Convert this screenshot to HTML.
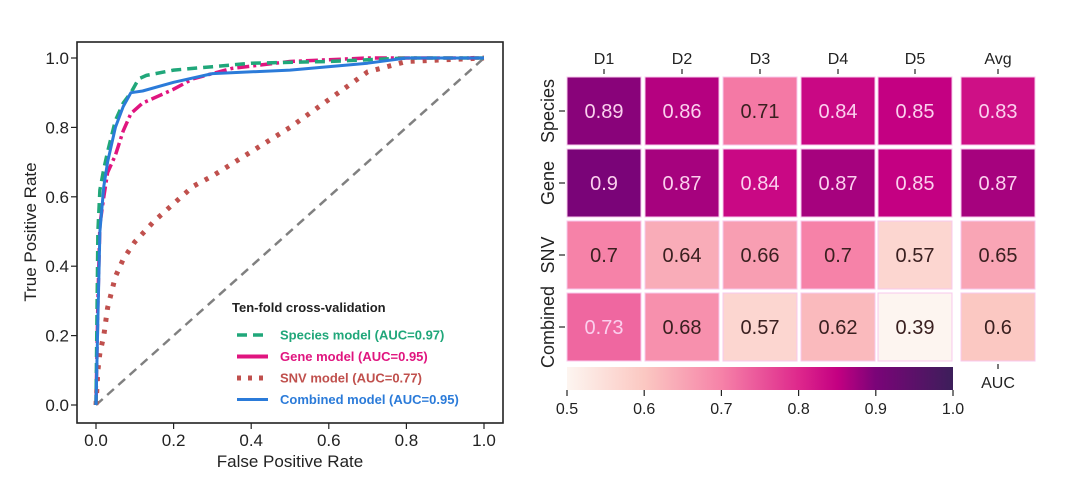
<!DOCTYPE html>
<html><head><meta charset="utf-8">
<style>
html,body{margin:0;padding:0;background:#fff;}
svg{display:block;font-family:"Liberation Sans",Arial,sans-serif;}
</style></head>
<body>
<svg id="fig" width="1080" height="493" viewBox="0 0 1080 493">
<g id="roc"></g>
<g id="heat"></g>
</svg>
<script>
// ROC data (FPR, TPR)
const speciesFpr = [0,0.005,0.01,0.02,0.03,0.05,0.07,0.09,0.11,0.13,0.2,0.3,0.4,0.6,0.8,1.0];
const speciesTpr = [0,0.5,0.62,0.68,0.73,0.82,0.87,0.9,0.94,0.95,0.965,0.975,0.985,0.99,1.0,1.0];
const geneFpr = [0,0.005,0.01,0.02,0.03,0.05,0.07,0.09,0.12,0.16,0.2,0.25,0.35,0.5,0.7,1.0];
const geneTpr = [0,0.3,0.52,0.6,0.67,0.72,0.79,0.84,0.87,0.89,0.91,0.94,0.97,0.99,1.0,1.0];
const snvFpr = [0,0.005,0.01,0.02,0.03,0.05,0.07,0.1,0.15,0.2,0.25,0.3,0.4,0.5,0.6,0.7,0.8,1.0];
const snvTpr = [0,0.1,0.15,0.2,0.28,0.37,0.42,0.47,0.53,0.58,0.63,0.66,0.73,0.8,0.88,0.96,0.99,1.0];
const combFpr = [0,0.005,0.01,0.02,0.03,0.05,0.07,0.09,0.12,0.2,0.3,0.5,0.7,0.8,1.0];
const combTpr = [0,0.25,0.5,0.63,0.7,0.8,0.86,0.9,0.905,0.93,0.955,0.965,0.985,1.0,1.0];
const axisTicks = [0,0.2,0.4,0.6,0.8,1.0];
const tickLabels = ["0.0","0.2","0.4","0.6","0.8","1.0"];

// Heatmap data
const rowNames = ["Species","Gene","SNV","Combined"];
const colNames = ["D1","D2","D3","D4","D5","Avg"];
const aucSpecies = [0.89,0.86,0.71,0.84,0.85,0.83];
const aucGene = [0.9,0.87,0.84,0.87,0.85,0.87];
const aucSnv = [0.7,0.64,0.66,0.7,0.57,0.65];
const aucCombined = [0.73,0.68,0.57,0.62,0.39,0.6];
const cbarTicks = [0.5,0.6,0.7,0.8,0.9,1.0];
const cbarLabels = ["0.5","0.6","0.7","0.8","0.9","1.0"];

const NS="http://www.w3.org/2000/svg";
function mk(tag, attrs, parent){const e=document.createElementNS(NS,tag);for(const k in attrs)e.setAttribute(k,attrs[k]);parent.appendChild(e);return e;}

// ---------- ROC ----------
const roc=document.getElementById('roc');
const xs=v=>96+v*(484-96);
const ys=v=>405-v*(405-58);
let el=mk('rect',{x:77,y:42,width:426,height:381,fill:'none',stroke:'#222','stroke-width':1.6},roc);


axisTicks.forEach((t,i)=>{
  let tk=mk('line',{x1:xs(t),x2:xs(t),y1:423,y2:429,stroke:'#222','stroke-width':1.2},roc);
  
  
  let tx=mk('text',{x:xs(t),y:446,'text-anchor':'middle','font-size':17,fill:'#222'},roc);
  tx.textContent=tickLabels[i];
  
  
  let ty=mk('line',{x1:71,x2:77,y1:ys(t),y2:ys(t),stroke:'#222','stroke-width':1.2},roc);
  
  
  let tl=mk('text',{x:69,y:ys(t)+6,'text-anchor':'end','font-size':17,fill:'#222'},roc);
  tl.textContent=tickLabels[i];
  
  
});
el=mk('text',{x:290,y:467,'text-anchor':'middle','font-size':17,fill:'#222'},roc);
el.textContent='False Positive Rate';


el=mk('text',{x:0,y:0,'text-anchor':'middle','font-size':17,fill:'#222',transform:'translate(36,232) rotate(-90)'},roc);
el.textContent='True Positive Rate';


el=mk('line',{x1:xs(0),y1:ys(0),x2:xs(1),y2:ys(1),stroke:'#808080','stroke-width':2.5,'stroke-dasharray':'9,6'},roc);


function path(fx,fy){return fx.map((v,i)=>(i?'L':'M')+xs(v).toFixed(1)+','+ys(fy[i]).toFixed(1)).join(' ');}
const series=[
 {n:'snv-curve',fx:snvFpr,fy:snvTpr,c:'#c0504d',d:'4,8',w:5},
 {n:'gene-curve',fx:geneFpr,fy:geneTpr,c:'#e0157f',d:'12,4,3,4',w:3.5},
 {n:'species-curve',fx:speciesFpr,fy:speciesTpr,c:'#20a77a',d:'10,6',w:3.5},
 {n:'combined-curve',fx:combFpr,fy:combTpr,c:'#2b7bd9',d:'',w:3}
];
series.forEach(s=>{
  let p=mk('path',{d:path(s.fx,s.fy),fill:'none',stroke:s.c,'stroke-width':s.w,'stroke-dasharray':s.d,'stroke-linejoin':'round'},roc);
  
  
});
el=mk('text',{x:232,y:312,'font-size':13,'font-weight':'bold',fill:'#222'},roc);
el.textContent='Ten-fold cross-validation';


const leg=[['Species model (AUC=0.97)','#20a77a','10,6',3.5],['Gene model (AUC=0.95)','#e0157f','',4],['SNV model (AUC=0.77)','#c0504d','4,7',5],['Combined model (AUC=0.95)','#2b7bd9','',3]];
leg.forEach((l,i)=>{
  const y=335+i*21.5;
  let g=mk('g',{},roc);
  
  
  mk('line',{x1:237,x2:268,y1:y,y2:y,stroke:l[1],'stroke-width':l[3],'stroke-dasharray':l[2]},g);
  let t=mk('text',{x:280,y:y+4.5,'font-size':13,'font-weight':'bold',fill:l[1]},g);
  t.textContent=l[0];
});

// ---------- Heatmap ----------
const heat=document.getElementById('heat');
const stops=[[0.5,[253,245,240]],[0.6,[251,200,194]],[0.7,[246,130,168]],[0.8,[222,40,140]],[0.85,[196,0,130]],[0.9,[122,4,120]],[1.0,[60,30,90]]];
function cmap(v){v=Math.max(0.5,Math.min(1,v));for(let i=1;i<stops.length;i++){if(v<=stops[i][0]){const a=stops[i-1],b=stops[i];const t=(v-a[0])/(b[0]-a[0]);return 'rgb('+a[1].map((c,k)=>Math.round(c+(b[1][k]-c)*t)).join(',')+')';}}return 'rgb(60,30,90)';}
const colX=[567,645,723,801,878,961];
const cw=74, rh=68, rowY=r=>77+r*72;
const grid=[aucSpecies,aucGene,aucSnv,aucCombined];
grid.forEach((row,r)=>{
  row.forEach((v,c)=>{
    let rc=mk('rect',{x:colX[c],y:rowY(r),width:cw,height:rh,fill:cmap(v),stroke:'#f8c8ec','stroke-width':1},heat);
    
    
    let t=mk('text',{x:colX[c]+cw/2,y:rowY(r)+rh/2+7,'text-anchor':'middle','font-size':20,fill:v>=0.72?'#fbd0ee':'#3a2020'},heat);
    t.textContent=String(v);
    
    
  });
  let tk=mk('line',{x1:559,x2:565,y1:rowY(r)+rh/2,y2:rowY(r)+rh/2,stroke:'#222','stroke-width':1.2},heat);
  
  
  let lb=mk('text',{x:0,y:0,'text-anchor':'middle','font-size':18,fill:'#222',transform:'translate('+554+','+(rowY(r)+rh/2)+') rotate(-90)'},heat);
  lb.textContent=rowNames[r];
  
  
});
colNames.forEach((n,c)=>{
  let t=mk('text',{x:colX[c]+cw/2,y:64,'text-anchor':'middle','font-size':16,fill:'#222'},heat);
  t.textContent=n;
  
  
  let tk=mk('line',{x1:colX[c]+cw/2,x2:colX[c]+cw/2,y1:69,y2:74,stroke:'#222','stroke-width':1.2},heat);
  
  
});
// colorbar
const defs=mk('defs',{},heat);
const lg=mk('linearGradient',{id:'cb',x1:0,x2:1,y1:0,y2:0},defs);
stops.forEach(s=>mk('stop',{offset:((s[0]-0.5)/0.5*100)+'%','stop-color':cmap(s[0])},lg));
const cbx=v=>567+(v-0.5)/0.5*(953-567);
el=mk('rect',{x:567,y:367,width:386,height:23,fill:'url(#cb)'},heat);


cbarTicks.forEach((v,i)=>{
  let tk=mk('line',{x1:cbx(v),x2:cbx(v),y1:390,y2:396,stroke:'#222','stroke-width':1.2},heat);
  
  
  let t=mk('text',{x:cbx(v),y:414,'text-anchor':'middle','font-size':16,fill:'#222'},heat);
  t.textContent=cbarLabels[i];
  
  
});
el=mk('line',{x1:998,x2:998,y1:364,y2:369,stroke:'#222','stroke-width':1.2},heat);


el=mk('text',{x:998,y:388,'text-anchor':'middle','font-size':16,fill:'#222'},heat);
el.textContent='AUC';


</script>
</body></html>
